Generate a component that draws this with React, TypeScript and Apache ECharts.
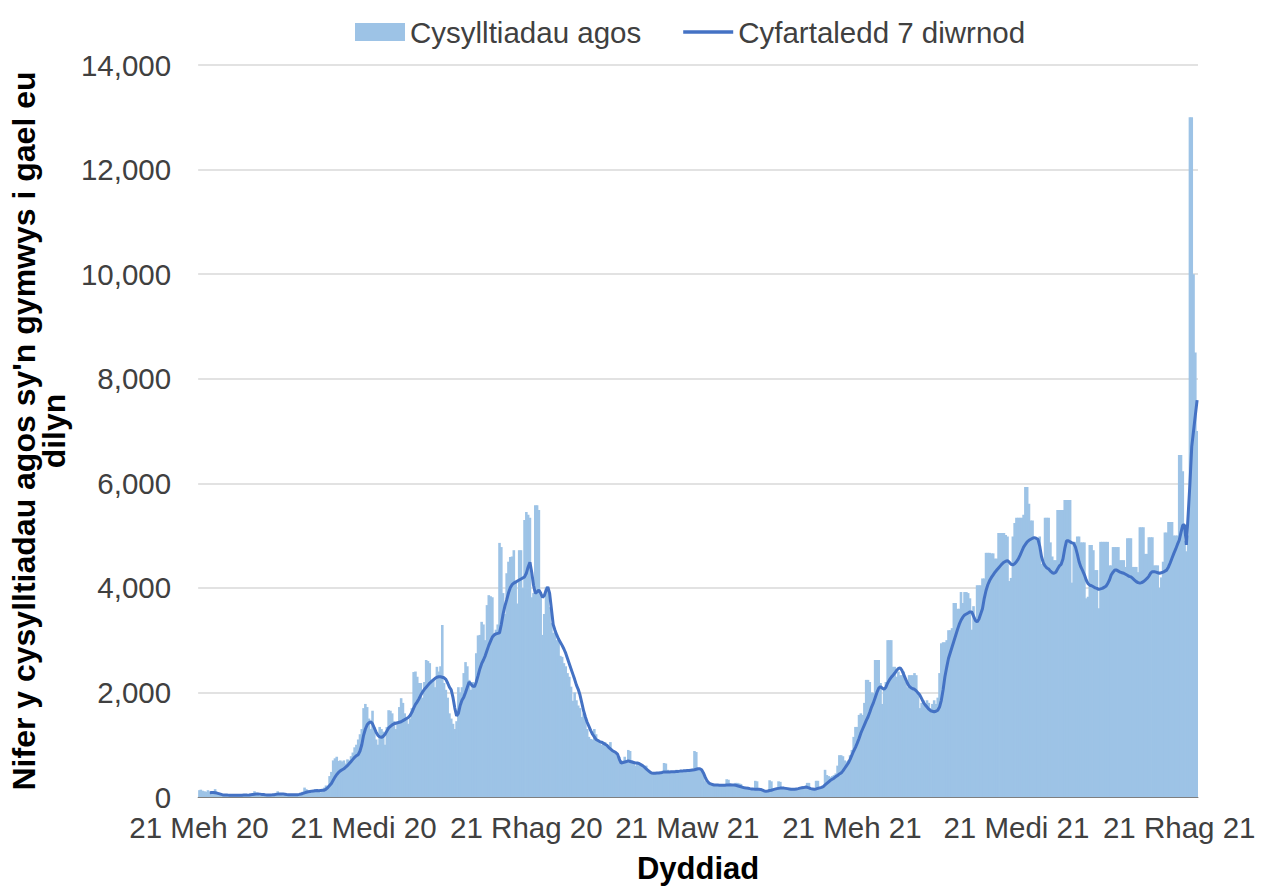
import React, { useEffect, useRef } from "react";
import * as echarts from "echarts";

// Daily close contacts eligible for follow-up, 21 Jun 2020 .. 31 Dec 2021 (one row per week)
const dailyContacts: number[] = [
  130, 140, 120, 110, 100, 130, 90,
  60, 70, 150, 60, 40, 50, 40,
  30, 40, 50, 40, 30, 30, 20,
  30, 40, 30, 40, 30, 20, 30,
  40, 30, 60, 110, 90, 50, 30,
  40, 50, 40, 50, 40, 30, 40,
  50, 80, 110, 70, 40, 30, 40,
  40, 50, 40, 50, 40, 30, 40,
  60, 80, 100, 180, 150, 120, 100,
  80, 120, 150, 140, 100, 90, 130,
  180, 220, 200, 400, 480, 700, 740,
  770, 690, 700, 680, 700, 640, 720,
  700, 780, 850, 950, 1000, 1100, 1200,
  1300, 1700, 1780, 1720, 1500, 1300, 1650,
  1340, 1100, 1000, 1340, 1300, 1250, 1000,
  1340, 1660, 1650, 1600, 1450, 1300, 1400,
  1720, 1890, 1800, 1600, 1510, 1400, 1500,
  1700, 2390, 2400, 2300, 2180, 2180, 1900,
  2200, 2620, 2600, 2560, 2240, 2240, 2100,
  2490, 2400, 2500, 3290, 2180, 2050, 1900,
  1600, 1500, 1400, 1300, 1450, 2100, 2000,
  2100, 2370, 2580, 2500, 2240, 2050, 2200,
  2100, 2750, 3090, 3100, 3350, 3300, 3000,
  3670, 3860, 3840, 3820, 3100, 3200, 3300,
  4860, 4780, 3900, 3500, 4280, 4500, 4590,
  4600, 4720, 4100, 3700, 4720, 4720, 4000,
  5300, 5450, 5400, 5340, 3820, 3900, 5580,
  5580, 5490, 3900, 3100, 3500, 4020, 4000,
  3630, 3330, 3140, 3200, 3000, 2980, 2700,
  2680, 2560, 2500, 2370, 2300, 2110, 1840,
  2000, 1850, 1750, 1700, 1530, 1600, 1530,
  1300, 1150, 1110, 1100, 1300, 1200, 1100,
  1050, 1000, 1030, 1050, 1000, 950, 1050,
  900, 880, 850, 800, 770, 700, 650,
  770, 700, 900, 880, 700, 650, 600,
  650, 620, 600, 570, 560, 600, 520,
  470, 460, 480, 470, 450, 460, 480,
  500, 650, 640, 520, 500, 490, 480,
  500, 520, 490, 510, 500, 480, 520,
  520, 500, 510, 540, 880, 860, 540,
  550, 520, 420, 300, 270, 250, 240,
  230, 240, 220, 230, 240, 230, 220,
  230, 340, 330, 240, 230, 220, 270,
  270, 260, 250, 200, 180, 170, 160,
  150, 160, 170, 310, 300, 150, 140,
  130, 120, 130, 110, 320, 300, 130,
  130, 170, 300, 290, 170, 170, 160,
  170, 160, 170, 150, 160, 170, 160,
  160, 170, 180, 190, 270, 270, 160,
  150, 170, 310, 310, 190, 180, 200,
  520, 420, 400, 380, 400, 420, 450,
  600, 800, 800, 780, 700, 680, 700,
  800, 900, 1150, 1340, 1340, 1570, 1600,
  1570, 1800, 2240, 2240, 2200, 2000, 1990,
  2620, 2620, 2620, 2180, 1780, 2100, 2200,
  3000, 3000, 3000, 2490, 2490, 2300, 2400,
  2330, 2330, 2400, 2200, 2100, 2330, 2330,
  2330, 2370, 2330, 2000, 1700, 1800, 1850,
  1780, 1850, 1800, 1700, 1780, 1850, 1780,
  1900, 2370, 2940, 2960, 2960, 3000, 3190,
  3190, 3230, 3710, 3710, 3600, 3600, 3920,
  3710, 3920, 3920, 3900, 3800, 3200, 3650,
  3400, 4050, 4050, 4050, 4180, 4180, 4670,
  4670, 4670, 4660, 4660, 4560, 4560, 5050,
  5050, 5050, 5050, 5010, 4980, 4130, 4190,
  4980, 5240, 5340, 5340, 5340, 5340, 5400,
  5930, 5930, 5610, 5290, 5290, 4930, 4930,
  4930, 4980, 4460, 4460, 5340, 5340, 5340,
  4870, 4600, 4530, 4530, 5490, 5490, 5490,
  5490, 5680, 5680, 5680, 5680, 4100, 4880,
  4880, 4980, 4980, 4870, 4870, 4870, 3800,
  3830, 4820, 4820, 4720, 4340, 4340, 3610,
  4880, 4880, 4880, 4880, 4880, 4430, 4430,
  4780, 4780, 4780, 4780, 4530, 4530, 4530,
  4400, 4950, 4950, 4950, 4400, 4400, 4400,
  4300, 5160, 5160, 5160, 4650, 4650, 4970,
  4970, 4970, 4430, 4430, 4430, 4000, 4200,
  4500, 5060, 5060, 5260, 5260, 5260, 5000,
  5000, 5000, 6540, 6540, 6230, 4900, 4700,
  5000, 13000, 13000, 10000, 8500, 7000,
];

// 7-day average, same days
const sevenDayAverage: (number | null)[] = [
  null, null, null, null, null, null, 80,
  85, 85, 80, 75, 65, 55, 45,
  40, 38, 36, 35, 34, 33, 32,
  32, 33, 34, 35, 36, 36, 36,
  40, 45, 50, 52, 55, 56, 55,
  50, 46, 42, 40, 40, 40, 42,
  45, 50, 55, 58, 58, 56, 52,
  48, 45, 43, 42, 42, 43, 45,
  50, 58, 68, 80, 90, 100, 105,
  110, 115, 120, 122, 120, 125, 128,
  130, 150, 180, 220, 260, 320, 380,
  430, 470, 500, 520, 540, 570, 600,
  640, 680, 720, 760, 790, 810, 880,
  1000, 1180, 1300, 1380, 1420, 1440, 1400,
  1320, 1240, 1180, 1150, 1140, 1160, 1200,
  1260, 1320, 1350, 1380, 1400, 1410, 1420,
  1430, 1440, 1460, 1480, 1500, 1520, 1560,
  1620, 1700, 1770, 1820, 1880, 1950, 2010,
  2060, 2100, 2140, 2180, 2210, 2240, 2270,
  2290, 2300, 2300, 2290, 2280, 2250, 2180,
  2100, 2050, 1900, 1700, 1550, 1600, 1750,
  1850, 1910, 2000, 2100, 2200, 2160, 2120,
  2110, 2200, 2320, 2450, 2550, 2620, 2700,
  2800, 2900, 2980, 3060, 3100, 3120, 3130,
  3140, 3300, 3500, 3650, 3770, 3900, 4000,
  4060, 4090, 4110, 4130, 4150, 4170, 4190,
  4210, 4280, 4400, 4490, 4300, 4050, 3900,
  3920, 3960, 3900, 3820, 3850, 3950, 4020,
  3900, 3600, 3300, 3190, 3100, 3020, 2960,
  2900, 2830, 2750, 2650, 2550, 2450, 2350,
  2250, 2140, 2060, 1950, 1800, 1650, 1530,
  1430, 1350, 1270, 1200, 1150, 1100, 1080,
  1060, 1050, 1030, 1010, 990, 950, 920,
  890, 870, 850, 820, 720, 650, 660,
  670, 680, 690, 680, 670, 660, 650,
  650, 640, 620, 600, 570, 540, 510,
  480, 460, 455, 455, 460, 460, 465,
  470, 480, 480, 480, 480, 485, 485,
  485, 490, 490, 495, 495, 500, 500,
  505, 505, 510, 515, 520, 530, 540,
  540, 520, 460, 380, 310, 270, 250,
  240, 230, 230, 228, 226, 225, 225,
  225, 228, 230, 232, 230, 228, 225,
  215, 205, 195, 185, 175, 170, 168,
  160, 155, 152, 150, 148, 148, 145,
  130, 115, 110, 115, 125, 130, 140,
  150, 160, 165, 170, 172, 170, 165,
  160, 155, 150, 150, 150, 155, 160,
  170, 175, 180, 190, 185, 175, 160,
  155, 150, 155, 165, 175, 185, 200,
  230, 260, 290, 320, 340, 360, 390,
  410, 440, 460, 500, 550, 600, 650,
  720, 800, 880, 950, 1030, 1120, 1220,
  1300, 1380, 1460, 1530, 1620, 1720, 1800,
  1900, 2000, 2080, 2110, 2080, 2060, 2100,
  2180, 2240, 2290, 2330, 2370, 2420, 2460,
  2470, 2420, 2340, 2260, 2180, 2120, 2090,
  2070, 2060, 2030, 1990, 1950, 1880, 1810,
  1760, 1720, 1680, 1650, 1640, 1630, 1640,
  1660, 1720, 1850, 2050, 2300, 2480, 2650,
  2760, 2870, 2980, 3090, 3200, 3300, 3380,
  3440, 3480, 3500, 3520, 3540, 3540, 3460,
  3380, 3350, 3400, 3500, 3600, 3800, 3950,
  4060, 4140, 4200, 4250, 4300, 4340, 4380,
  4420, 4460, 4490, 4510, 4520, 4490, 4450,
  4440, 4460, 4500, 4550, 4620, 4700, 4780,
  4830, 4880, 4910, 4930, 4950, 4960, 4950,
  4930, 4800, 4600, 4480, 4420, 4380, 4360,
  4320, 4290, 4280, 4300, 4360, 4420, 4450,
  4550, 4750, 4900, 4900, 4880, 4860, 4850,
  4780, 4650, 4500, 4400, 4330, 4250, 4150,
  4080, 4050, 4040, 4020, 4000, 3990, 3970,
  3980, 3990, 4010, 4030, 4080, 4150, 4250,
  4300, 4340, 4340, 4320, 4300, 4290, 4280,
  4260, 4240, 4220, 4210, 4180, 4150, 4120,
  4100, 4090, 4100, 4120, 4150, 4180, 4220,
  4280, 4310, 4310, 4300, 4290, 4280, 4290,
  4300, 4320, 4340, 4400, 4480, 4570, 4660,
  4740, 4830, 4910, 5060, 5200, 5200, 4820,
  5400, 6000, 6700, 7000, 7300, 7590,
];

const tickIndices = [0, 92, 183, 273, 365, 457, 548];
const tickLabels = [
  "21 Meh 20",
  "21 Medi 20",
  "21 Rhag 20",
  "21 Maw 21",
  "21 Meh 21",
  "21 Medi 21",
  "21 Rhag 21",
];
const yMax = 14000;
const yStep = 2000;

const categories = dailyContacts.map((_, i) => {
  const d = new Date(Date.UTC(2020, 5, 21 + i));
  return d.toISOString().slice(0, 10);
});

const FONT = "'Liberation Sans', Arial, sans-serif";
const LABEL_COLOR = "#404040";

export default function App() {
  const ref = useRef<HTMLDivElement>(null);

  useEffect(() => {
    document.body.style.margin = "0";
    if (!ref.current) return;
    const chart = echarts.init(ref.current, undefined, { renderer: "svg" });
    const isTick = (i: number) => tickIndices.indexOf(i) >= 0;
    chart.setOption({
      animation: false,
      textStyle: { fontFamily: FONT },
      legend: {
        top: 12,
        left: 350,
        itemWidth: 50,
        itemHeight: 18,
        itemGap: 42,
        textStyle: { fontSize: 29.5, color: LABEL_COLOR, fontFamily: FONT },
        data: [
          { name: "Cysylltiadau agos", icon: "rect" },
          { name: "Cyfartaledd 7 diwrnod", icon: "path://M0,0 L50,0 L50,3.5 L0,3.5 Z" },
        ],
      },
      grid: { left: 198, right: 65, top: 65, bottom: 93, containLabel: false },
      xAxis: {
        type: "category",
        data: categories,
        boundaryGap: true,
        axisLine: { lineStyle: { color: "#7f7f7f", width: 1 } },
        axisTick: {
          alignWithLabel: true,
          interval: (i: number) => isTick(i),
          length: 10,
          lineStyle: { color: "#404040", width: 1.5 },
        },
        axisLabel: {
          interval: (i: number) => isTick(i),
          formatter: (_v: string, i: number) => tickLabels[tickIndices.indexOf(i)] ?? "",
          fontSize: 29.5,
          color: LABEL_COLOR,
          fontFamily: FONT,
          margin: 15,
          hideOverlap: false,
        },
        name: "Dyddiad",
        nameLocation: "middle",
        nameGap: 56,
        nameTextStyle: { fontSize: 31, fontWeight: "bold", color: "#000", fontFamily: FONT },
      },
      yAxis: {
        type: "value",
        min: 0,
        max: yMax,
        interval: yStep,
        axisLine: { show: false },
        axisTick: { show: false },
        axisLabel: {
          fontSize: 29.5,
          color: LABEL_COLOR,
          fontFamily: FONT,
          margin: 27,
          formatter: (v: number) => v.toLocaleString("en-GB"),
        },
        splitLine: { lineStyle: { color: "#d9d9d9", width: 1.5 } },
        name: "Nifer y cysylltiadau agos sy'n gymwys i gael eu\ndilyn",
        nameLocation: "middle",
        nameGap: 113,
        nameTextStyle: {
          fontSize: 32,
          fontWeight: "bold",
          color: "#000",
          fontFamily: FONT,
          lineHeight: 30,
          align: "center",
        },
      },
      series: [
        {
          name: "Cysylltiadau agos",
          type: "bar",
          data: dailyContacts,
          barWidth: 2.6,
          barGap: "-100%",
          itemStyle: { color: "#9dc3e6" },
        },
        {
          name: "Cyfartaledd 7 diwrnod",
          type: "line",
          data: sevenDayAverage,
          symbol: "none",
          showSymbol: false,
          lineStyle: { color: "#4472c4", width: 3 },
          itemStyle: { color: "#4472c4" },
        },
      ],
    });
    return () => chart.dispose();
  }, []);

  return <div ref={ref} style={{ width: 1263, height: 890 }} />;
}
